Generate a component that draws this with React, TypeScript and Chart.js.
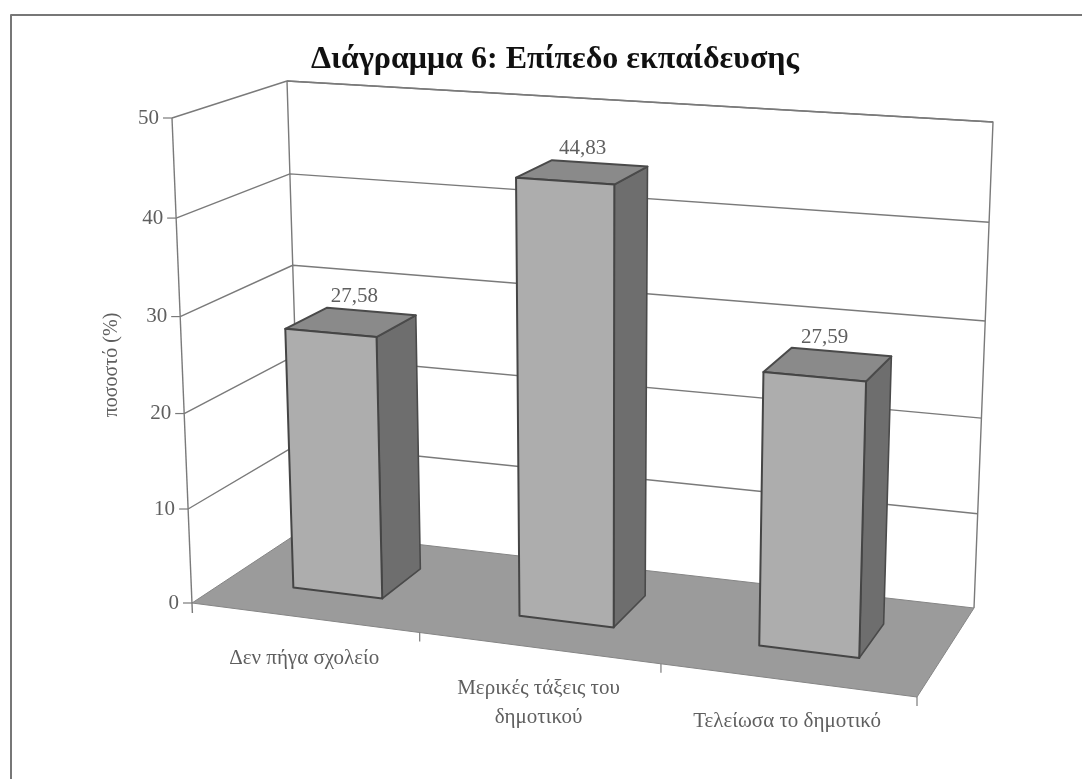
import React, { useEffect, useRef } from "react";
import { Chart, registerables } from "chart.js";

Chart.register(...registerables);

const titleText = "Διάγραμμα 6: Επίπεδο εκπαίδευσης";
const categories = ["Δεν πήγα σχολείο", ["Μερικές τάξεις του", "δημοτικού"], "Τελείωσα το δημοτικό"];
const seriesValues = [27.58, 44.83, 27.59];
const axisTitle = "ποσοστό (%)";
const axisMax = 50;
const axisStep = 10;

type P = [number, number];
// box corners as seen on the page: f/b = front/back, l/r = left/right, 0/1 = floor/ceiling
const box = {
  fl0: [192, 603] as P, fr0: [917, 697] as P, bl0: [301, 531] as P, br0: [974, 608] as P,
  fl1: [172, 118] as P, fr1: [932, 168] as P, bl1: [287, 81] as P, br1: [993, 122] as P,
};
const R_U = 1.092, R_V = 1.04;
const warp = (t: number, r: number) => t / (t + r * (1 - t));
const lerp = (a: P, b: P, t: number): P => [a[0] + (b[0] - a[0]) * t, a[1] + (b[1] - a[1]) * t];
function project(u: number, v: number, w: number): P {
  const uu = warp(u, R_U), vv = warp(v, R_V);
  const f0 = lerp(box.fl0, box.fr0, uu), b0 = lerp(box.bl0, box.br0, uu);
  const f1 = lerp(box.fl1, box.fr1, uu), b1 = lerp(box.bl1, box.br1, uu);
  return lerp(lerp(f0, b0, w), lerp(f1, b1, w), vv);
}
const W_FRONT = 0.33, W_BACK = 0.72;

function poly(ctx: CanvasRenderingContext2D, pts: P[], fill?: string, stroke?: string, lw = 1) {
  ctx.beginPath();
  pts.forEach((p, i) => (i ? ctx.lineTo(p[0], p[1]) : ctx.moveTo(p[0], p[1])));
  if (fill) { ctx.closePath(); ctx.fillStyle = fill; ctx.fill(); }
  if (stroke) { ctx.strokeStyle = stroke; ctx.lineWidth = lw; ctx.lineJoin = "round"; ctx.stroke(); }
}

const LINE = "#7a7a7a";
const TEXT = "#5f5f5f";
const FONT = '"Liberation Serif"';
const seriesLabel = (v: number) => v.toFixed(2).replace(".", ",");

const scene3d = {
  id: "scene3d",
  beforeDatasetsDraw(chart: any) {
    const ctx: CanvasRenderingContext2D = chart.ctx;
    const y = chart.scales.y;
    ctx.save();
    // page frame
    poly(ctx, [[11, 779], [11, 15], [1082, 15]], undefined, "#777", 2);
    // floor
    poly(ctx, [project(0, 0, 0), project(1, 0, 0), project(1, 0, 1), project(0, 0, 1)], "#9b9b9b", "#858585", 1);
    // walls and grid
    poly(ctx, [project(0, 1, 1), project(1, 1, 1), project(1, 0, 1)], undefined, LINE, 1.4);
    poly(ctx, [project(0, 0, 1), project(0, 1, 1)], undefined, LINE, 1.4);
    const fl0 = project(0, 0, 0);
    poly(ctx, [project(0, 1, 0), [fl0[0] + 0.4, fl0[1] + 10]], undefined, LINE, 1.4);
    ctx.font = `21px ${FONT}`;
    ctx.fillStyle = TEXT;
    ctx.textAlign = "right";
    ctx.textBaseline = "middle";
    y.ticks.forEach((t: any) => {
      const v = (y.getPixelForValue(0) - y.getPixelForValue(t.value)) / (y.getPixelForValue(0) - y.getPixelForValue(axisMax));
      const a = project(0, v, 0), b = project(0, v, 1), c = project(1, v, 1);
      if (t.value > 0) poly(ctx, [a, b, c], undefined, LINE, 1.4);
      poly(ctx, [[a[0] - 9, a[1]], a], undefined, LINE, 1.2);
      ctx.fillStyle = TEXT;
      ctx.fillText(String(t.value), a[0] - 13, a[1]);
    });
    // category ticks
    const n = chart.data.labels.length;
    for (let i = 1; i <= n; i++) {
      const p = project(i / n, 0, 0);
      poly(ctx, [p, [p[0], p[1] + 9]], undefined, LINE, 1.2);
    }
    // category labels
    const x = chart.scales.x;
    ctx.textAlign = "center";
    chart.data.labels.forEach((label: any, i: number) => {
      const u = (x.getPixelForValue(i) - chart.chartArea.left) / chart.chartArea.width;
      const p = project(u, 0, 0);
      const lines = Array.isArray(label) ? label : [label];
      lines.forEach((s: string, k: number) => {
        ctx.fillStyle = TEXT;
        ctx.fillText(s, p[0], p[1] + 41 + k * 29);
      });
    });
    // axis title
    ctx.translate(112, 365);
    ctx.rotate(-Math.PI / 2);
    ctx.font = `20px ${FONT}`;
    ctx.fillStyle = TEXT;
    ctx.fillText(axisTitle, 0, 0);
    ctx.restore();
  },
  beforeDatasetDraw(chart: any, args: any) {
    const ctx: CanvasRenderingContext2D = chart.ctx;
    const meta = chart.getDatasetMeta(args.index);
    const ds = chart.data.datasets[args.index];
    const area = chart.chartArea;
    const y = chart.scales.y;
    const span = y.getPixelForValue(0) - y.getPixelForValue(axisMax);
    ctx.save();
    meta.data.forEach((el: any, i: number) => {
      const u0 = (el.x - el.width / 2 - area.left) / area.width;
      const u1 = (el.x + el.width / 2 - area.left) / area.width;
      const v = (el.base - el.y) / span;
      const a = project(u0, 0, W_FRONT), b = project(u1, 0, W_FRONT);
      const c = project(u1, v, W_FRONT), d = project(u0, v, W_FRONT);
      const e = project(u1, 0, W_BACK), f = project(u1, v, W_BACK), g = project(u0, v, W_BACK);
      poly(ctx, [b, e, f, c], ds.sideColor, "#4a4a4a", 1.6);
      poly(ctx, [d, c, f, g], ds.topColor, "#4a4a4a", 2);
      poly(ctx, [a, b, c, d], ds.backgroundColor, "#454545", 2);
      const m = lerp(g, f, 0.5);
      ctx.font = `21px ${FONT}`;
      ctx.fillStyle = TEXT;
      ctx.textAlign = "center";
      ctx.textBaseline = "middle";
      ctx.fillText(seriesLabel(seriesValues[i]), m[0] - 17, m[1] - 15);
    });
    ctx.restore();
    return false;
  },
};

export default function App() {
  const ref = useRef<HTMLCanvasElement>(null);
  useEffect(() => {
    document.body.style.margin = "0";
    document.body.style.background = "#fff";
    const chart = new Chart(ref.current!, {
      type: "bar",
      data: {
        labels: categories as any,
        datasets: [{
          data: seriesValues,
          backgroundColor: "#adadad",
          sideColor: "#6e6e6e",
          topColor: "#8a8a8a",
          barPercentage: 0.4,
          categoryPercentage: 1,
        } as any],
      },
      options: {
        responsive: false,
        animation: false,
        layout: { padding: { left: 28 } },
        plugins: {
          legend: { display: false },
          tooltip: { enabled: false },
          title: {
            display: true,
            text: titleText,
            color: "#111",
            font: { family: FONT, size: 32, weight: "bold" },
            padding: { top: 41, bottom: 20 },
          },
        },
        scales: {
          x: { display: false },
          y: { display: false, min: 0, max: axisMax, ticks: { stepSize: axisStep } },
        },
      },
      plugins: [scene3d],
    } as any);
    return () => chart.destroy();
  }, []);
  return (
    <div style={{ position: "absolute", left: 0, top: 0, width: 1082, height: 779 }}>
      <canvas ref={ref} width={1082} height={779} style={{ display: "block" }} />
    </div>
  );
}
